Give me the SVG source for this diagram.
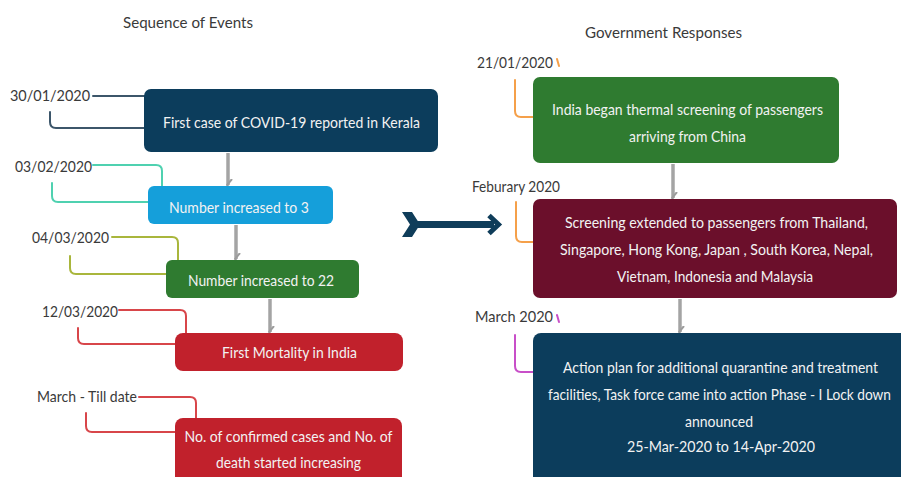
<svg xmlns="http://www.w3.org/2000/svg" width="901" height="477" viewBox="0 0 901 477">
<style>
.t{font-family:Lato,"Liberation Sans",sans-serif;font-size:16px}
.title{fill:#3a3a3a}
.date{fill:#3a3a3a}
.nt{fill:#f2f2f2;text-anchor:middle}
.br{fill:none;stroke-width:2;stroke-linecap:round}
.flow{stroke:#a4a4a4;stroke-width:3.5;fill:none}
</style>
<defs>
<marker id="ah" markerWidth="12" markerHeight="8" refX="6" refY="6" orient="auto" markerUnits="userSpaceOnUse" viewBox="0 0 12 8">
<path d="M0,2 L6,7 L12,2" fill="none" stroke="#9c9c9c" stroke-width="2"/>
</marker>
</defs>
<rect width="901" height="477" fill="#ffffff"/>

<text class="t title" x="123" y="28" textLength="130" lengthAdjust="spacingAndGlyphs">Sequence of Events</text>
<text class="t title" x="585" y="38" textLength="157" lengthAdjust="spacingAndGlyphs">Government Responses</text>

<g id="connectors">
<path class="br" stroke="#3c566a" d="M93,96 H146"/>
<path class="br" stroke="#3c566a" d="M50,112 V122 Q50,128 56,128 H146"/>
<path class="br" stroke="#4fd1b0" d="M93,165 H156 Q162,165 162,171 V186"/>
<path class="br" stroke="#4fd1b0" d="M52,183 V196 Q52,202 58,202 H149"/>
<path class="br" stroke="#a9b63c" d="M112,237 H172 Q178,237 178,243 V260"/>
<path class="br" stroke="#a9b63c" d="M70,256 V268 Q70,274 76,274 H167"/>
<path class="br" stroke="#d8464a" d="M119,310 H180 Q186,310 186,316 V333"/>
<path class="br" stroke="#d8464a" d="M78,328 V338 Q78,344 84,344 H176"/>
<path class="br" stroke="#d8464a" d="M139,397 H190 Q196,397 196,403 V418"/>
<path class="br" stroke="#d8464a" d="M86,413 V426 Q86,432 92,432 H176"/>
<path class="br" stroke="#f5a04a" d="M557,59 L559,66"/>
<path class="br" stroke="#f5a04a" d="M515,80 V111 Q515,117 521,117 H534"/>
<path class="br" stroke="#f5a04a" d="M516,202 V236 Q516,242 522,242 H534"/>
<path class="br" stroke="#c84fc8" d="M557,315 L559,322"/>
<path class="br" stroke="#c84fc8" d="M515,335 V366 Q515,372 521,372 H534"/>
<line class="flow" x1="228" y1="153" x2="228" y2="185" marker-end="url(#ah)"/>
<line class="flow" x1="236" y1="225" x2="236" y2="259" marker-end="url(#ah)"/>
<line class="flow" x1="270" y1="299" x2="270" y2="332" marker-end="url(#ah)"/>
<line class="flow" x1="673" y1="164" x2="673" y2="198" marker-end="url(#ah)"/>
<line class="flow" x1="680" y1="299" x2="680" y2="332" marker-end="url(#ah)"/>
<g id="big-arrow" fill="#0f3d5a">
<polygon points="402,212 412,212 420,224.5 412,237 402,237 410,224.5"/>
<rect x="414" y="221" width="80" height="7"/>
<path d="M489,215.5 L498.5,224.5 L489,233.5" fill="none" stroke="#0f3d5a" stroke-width="5" stroke-linejoin="miter"/>
</g>
</g>

<g id="node-e1">
<text class="t date" x="10" y="101" textLength="80" lengthAdjust="spacingAndGlyphs">30/01/2020</text>
<rect x="144" y="89" width="294" height="63" rx="7" fill="#0c3d5c"/>
<text class="t nt" x="291.5" y="128" textLength="257" lengthAdjust="spacingAndGlyphs">First case of COVID-19 reported in Kerala</text>
</g>
<g id="node-e2">
<text class="t date" x="15" y="172" textLength="77" lengthAdjust="spacingAndGlyphs">03/02/2020</text>
<rect x="148" y="186" width="185" height="38" rx="6" fill="#159fda"/>
<text class="t nt" x="239" y="213" textLength="140" lengthAdjust="spacingAndGlyphs">Number increased to 3</text>
</g>
<g id="node-e3">
<text class="t date" x="32" y="243" textLength="77" lengthAdjust="spacingAndGlyphs">04/03/2020</text>
<rect x="166" y="260" width="193" height="38" rx="6" fill="#2f7b30"/>
<text class="t nt" x="261" y="286" textLength="146" lengthAdjust="spacingAndGlyphs">Number increased to 22</text>
</g>
<g id="node-e4">
<text class="t date" x="42" y="317" textLength="76" lengthAdjust="spacingAndGlyphs">12/03/2020</text>
<rect x="175" y="333" width="228" height="38" rx="8" fill="#c1212c"/>
<text class="t nt" x="289.5" y="358" textLength="135" lengthAdjust="spacingAndGlyphs">First Mortality in India</text>
</g>
<g id="node-e5">
<text class="t date" x="37" y="402" textLength="100" lengthAdjust="spacingAndGlyphs">March - Till date</text>
<rect x="175" y="418" width="227" height="75" rx="8" fill="#c1212c"/>
<text class="t nt" x="288.5" y="442" textLength="208" lengthAdjust="spacingAndGlyphs">No. of confirmed cases and No. of</text>
<text class="t nt" x="288.5" y="468" textLength="145" lengthAdjust="spacingAndGlyphs">death started increasing</text>
</g>

<g id="node-g1">
<text class="t date" x="477" y="68" textLength="76" lengthAdjust="spacingAndGlyphs">21/01/2020</text>
<rect x="533" y="77" width="306" height="86" rx="7" fill="#2f7b30"/>
<text class="t nt" x="687.5" y="115" textLength="271" lengthAdjust="spacingAndGlyphs">India began thermal screening of passengers</text>
<text class="t nt" x="687.5" y="142" textLength="117" lengthAdjust="spacingAndGlyphs">arriving from China</text>
</g>
<g id="node-g2">
<text class="t date" x="472" y="192" textLength="88" lengthAdjust="spacingAndGlyphs">Feburary 2020</text>
<rect x="533" y="199" width="364" height="99" rx="7" fill="#6b0f2b"/>
<text class="t nt" x="716.5" y="228" textLength="303" lengthAdjust="spacingAndGlyphs">Screening  extended to passengers from Thailand,</text>
<text class="t nt" x="716.5" y="255" textLength="313" lengthAdjust="spacingAndGlyphs">Singapore, Hong Kong, Japan ,  South Korea, Nepal,</text>
<text class="t nt" x="715" y="282" textLength="196" lengthAdjust="spacingAndGlyphs">Vietnam, Indonesia and Malaysia</text>
</g>
<g id="node-g3">
<text class="t date" x="475" y="322" textLength="78" lengthAdjust="spacingAndGlyphs">March  2020</text>
<rect x="533" y="333" width="380" height="160" rx="8" fill="#0c3d5c"/>
<text class="t nt" x="720.5" y="373" textLength="315" lengthAdjust="spacingAndGlyphs">Action plan for additional quarantine and treatment</text>
<text class="t nt" x="719.5" y="400" textLength="343" lengthAdjust="spacingAndGlyphs">facilities, Task force came into action Phase - I Lock down</text>
<text class="t nt" x="719" y="427" textLength="68" lengthAdjust="spacingAndGlyphs">announced</text>
<text class="t nt" x="721" y="452" textLength="188" lengthAdjust="spacingAndGlyphs">25-Mar-2020 to  14-Apr-2020</text>
</g>
</svg>
